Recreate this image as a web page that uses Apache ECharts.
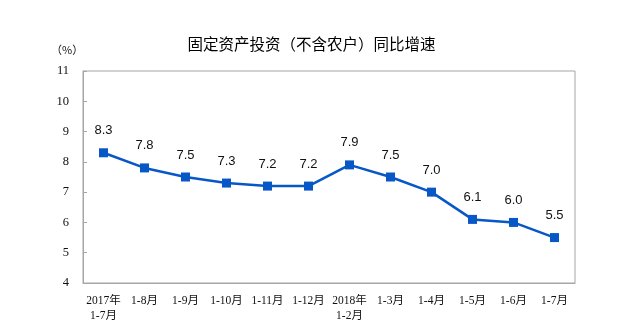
<!DOCTYPE html>
<html>
<head>
<meta charset="utf-8">
<script src="https://cdn.jsdelivr.net/npm/echarts@6/dist/echarts.min.js"></script>
<style>
  html, body { margin: 0; padding: 0; background: #fff; }
  #chart { width: 623px; height: 333px; }
</style>
</head>
<body>
<div id="chart"></div>
<script>
// 固定资产投资（不含农户）累计同比增速
const categories = ['2017年\n1-7月', '1-8月', '1-9月', '1-10月', '1-11月', '1-12月',
  '2018年\n1-2月', '1-3月', '1-4月', '1-5月', '1-6月', '1-7月'];
const growth = [8.3, 7.8, 7.5, 7.3, 7.2, 7.2, 7.9, 7.5, 7.0, 6.1, 6.0, 5.5];
const yTicks = [4, 5, 6, 7, 8, 9, 10, 11];

const chart = echarts.init(document.getElementById('chart'));
const axisGray = '#a6a6a6';
const cjkSerif = '"Liberation Serif", "Noto Sans CJK SC", serif';

chart.setOption({
  animation: false,
  title: {
    text: '固定资产投资（不含农户）同比增速',
    left: 'center',
    top: 31,
    textStyle: { fontSize: 15.5, fontWeight: 'normal', color: '#000', fontFamily: '"Noto Sans CJK SC", sans-serif' }
  },
  graphic: [{
    type: 'text',
    left: 51,
    top: 44,
    style: { text: '（%）', fontSize: 11, fill: '#111', fontFamily: '"Noto Sans CJK SC", sans-serif' }
  }],
  grid: {
    left: 83, right: 48, top: 71, bottom: 50,
    show: true, borderColor: axisGray, borderWidth: 1, backgroundColor: 'transparent'
  },
  xAxis: {
    type: 'category',
    data: categories,
    boundaryGap: true,
    axisLine: { lineStyle: { color: axisGray, width: 1 } },
    axisTick: { inside: true, length: 4, lineStyle: { color: axisGray } },
    axisLabel: {
      color: '#111', fontSize: 11.5, fontFamily: cjkSerif,
      lineHeight: 15, margin: 10, interval: 0
    }
  },
  yAxis: {
    type: 'value',
    min: yTicks[0],
    max: yTicks[yTicks.length - 1],
    interval: 1,
    splitLine: { show: false },
    axisLine: { show: true, lineStyle: { color: axisGray, width: 1 } },
    axisTick: { show: true, inside: true, length: 4, lineStyle: { color: axisGray } },
    axisLabel: { color: '#111', fontSize: 12.5, fontFamily: cjkSerif, margin: 14 }
  },
  series: [{
    type: 'line',
    data: growth,
    symbol: 'rect',
    symbolSize: 9,
    lineStyle: { color: '#0757c6', width: 2.5 },
    itemStyle: { color: '#0757c6' },
    label: {
      show: true,
      position: 'top',
      distance: 11,
      color: '#111',
      fontSize: 13,
      fontFamily: '"Liberation Sans", Arial, sans-serif',
      formatter: p => p.value.toFixed(1)
    }
  }]
});
</script>
</body>
</html>
